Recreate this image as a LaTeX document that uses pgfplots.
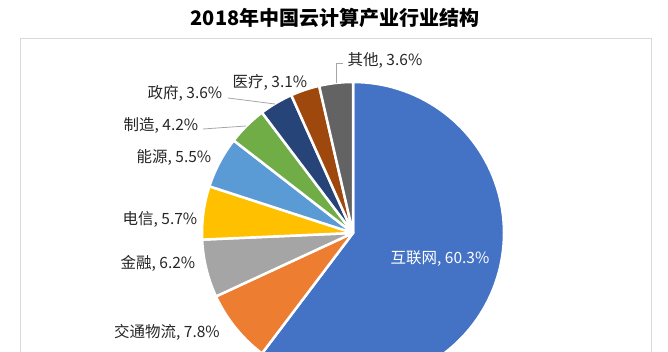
\documentclass[border=0pt]{standalone}
\usepackage{pgfplots}
\pgfplotsset{compat=1.18}
\usepackage{fontspec}
\setmainfont{Noto Sans CJK SC}
\definecolor{c1}{HTML}{4472C4}
\definecolor{c2}{HTML}{ED7D31}
\definecolor{c3}{HTML}{A5A5A5}
\definecolor{c4}{HTML}{FFC000}
\definecolor{c5}{HTML}{5B9BD5}
\definecolor{c6}{HTML}{70AD47}
\definecolor{c7}{HTML}{264478}
\definecolor{c8}{HTML}{9E480E}
\definecolor{c9}{HTML}{636363}
\definecolor{lbl}{HTML}{262626}
\definecolor{lead}{HTML}{A6A6A6}
\def\cum{0}
\newcommand{\slice}[2]{%
  \pgfmathsetmacro\aS{90-3.6*\cum}%
  \pgfmathsetmacro\aE{90-3.6*(\cum+#1)}%
  \pgfmathsetmacro\newcum{\cum+#1}\global\let\cum\newcum
  \edef\temp{\noexpand\addplot[fill=#2, draw=white, line width=2.5pt, line join=round, domain=\aE:\aS, samples=100, variable=\noexpand\t] ({353+151*cos(\noexpand\t)},{119+151*sin(\noexpand\t)}) -- (353,119) -- cycle;}%
  \temp}
\begin{document}
\begin{tikzpicture}
\begin{axis}[name=ax, scale only axis, width=668pt, height=352pt,
  xmin=0, xmax=668, ymin=0, ymax=352, hide axis, clip=true]
\addplot[draw=black!15, line width=1pt] coordinates {(20,-5) (20,313) (651,313) (651,-5)};
\slice{60.3}{c1}
\slice{7.8}{c2}
\slice{6.2}{c3}
\slice{5.7}{c4}
\slice{5.5}{c5}
\slice{4.2}{c6}
\slice{3.6}{c7}
\slice{3.1}{c8}
\slice{3.6}{c9}
\addplot[draw=lead, line width=0.8pt] coordinates {(343,289) (336,289) (336,269)};
\addplot[draw=lead, line width=0.8pt] coordinates {(228,254) (275,248)};
\addplot[draw=lead, line width=0.8pt] coordinates {(203,223) (246,226)};
\begin{scope}[every node/.style={font=\fontsize{15.5}{18}\selectfont, text=lbl, inner sep=0pt}]
\node at (axis cs:385,292) {其他, 3.6\%};
\node at (axis cs:270,270) {医疗, 3.1\%};
\node at (axis cs:185,259) {政府, 3.6\%};
\node at (axis cs:161,227) {制造, 4.2\%};
\node at (axis cs:174,195) {能源, 5.5\%};
\node at (axis cs:160,133) {电信, 5.7\%};
\node at (axis cs:158,89) {金融, 6.2\%};
\node at (axis cs:167,20) {交通物流, 7.8\%};
\node[text=white] at (axis cs:440,93) {互联网, 60.3\%};
\end{scope}
\node[font=\fontsize{20}{23}\selectfont\bfseries, text=black, inner sep=0pt] at (axis cs:335,334) {2018年中国云计算产业行业结构};
\end{axis}
\pgfresetboundingbox
\useasboundingbox (ax.south west) rectangle (ax.north east);
\end{tikzpicture}
\end{document}
